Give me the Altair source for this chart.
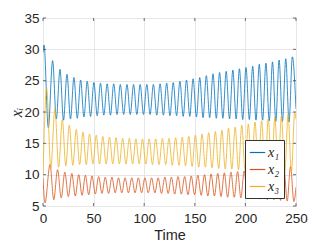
import altair as alt
import pandas as pd

# ---------------- data ----------------
X_TICKS = [0, 50, 100, 150, 200, 250]
Y_TICKS = [5, 10, 15, 20, 25, 30, 35]
NAMES = ["x\u2081", "x\u2082", "x\u2083"]
COLORS = ["#0072BD", "#D95319", "#EDB120"]

# x1 (blue): peak times, peak values, trough values between peaks
X1_HEAD = [(0.0, 29.5)]
X1_T_PEAK = [1.0, 9.5, 16.8, 23.7, 30.6, 37.2, 43.7, 50.3, 56.8, 63.4,
             69.9, 76.4, 83.0, 89.5, 96.0, 102.6, 109.1, 115.7, 122.2, 128.7,
             135.3, 141.8, 148.3, 154.9, 161.4, 168.0, 174.5, 181.0, 187.6, 194.1,
             200.6, 207.2, 213.7, 220.3, 226.8, 233.3, 239.9, 246.4]
X1_PEAK = [30.7, 28.2, 26.8, 26.0, 25.5, 25.1, 24.9, 24.7, 24.6, 24.5,
           24.5, 24.4, 24.4, 24.4, 24.4, 24.4, 24.4, 24.5, 24.6, 24.7,
           24.9, 25.1, 25.3, 25.5, 25.8, 26.1, 26.3, 26.5, 26.7, 26.9,
           27.1, 27.3, 27.6, 27.8, 28.0, 28.3, 28.5, 28.8]
X1_TROUGH = [17.5, 18.9, 18.7, 18.9, 19.0, 19.2, 19.3, 19.4, 19.5, 19.5,
             19.6, 19.6, 19.6, 19.6, 19.6, 19.6, 19.5, 19.5, 19.4, 19.4,
             19.3, 19.3, 19.2, 19.1, 19.1, 19.0, 19.0, 18.9, 18.9, 18.8,
             18.8, 18.7, 18.7, 18.6, 18.5, 18.5, 18.4]
X1_TAIL = [(250.0, 20.5)]

# x2 (orange)
X2_HEAD = [(0.0, 9.5), (2.0, 5.5)]
X2_T_PEAK = [6.9, 14.4, 21.6, 28.5, 35.3, 41.9, 48.4, 55.0, 61.5, 68.1,
             74.6, 81.1, 87.7, 94.2, 100.7, 107.3, 113.8, 120.4, 126.9, 133.4,
             140.0, 146.5, 153.0, 159.6, 166.1, 172.7, 179.2, 185.7, 192.3, 198.8,
             205.3, 211.9, 218.4, 225.0, 231.5, 238.0, 244.6]
X2_PEAK = [11.6, 10.8, 10.4, 10.2, 10.0, 9.9, 9.8, 9.7, 9.6, 9.6,
           9.5, 9.5, 9.5, 9.5, 9.5, 9.5, 9.5, 9.6, 9.6, 9.7,
           9.7, 9.8, 9.9, 10.0, 10.1, 10.2, 10.3, 10.4, 10.5, 10.6,
           10.7, 10.8, 10.9, 11.0, 11.1, 11.2, 11.3]
X2_TROUGH = [6.0, 6.3, 6.5, 6.6, 6.7, 6.8, 6.9, 7.0, 7.0, 7.1,
             7.1, 7.1, 7.1, 7.1, 7.1, 7.1, 7.0, 7.0, 6.9, 6.9,
             6.8, 6.8, 6.7, 6.6, 6.6, 6.5, 6.4, 6.4, 6.3, 6.2,
             6.2, 6.1, 6.0, 6.0, 5.9, 5.8]
X2_TAIL = [(247.9, 5.7), (250.0, 8.0)]

# x3 (yellow)
X3_HEAD = [(0.0, 10.0)]
X3_T_PEAK = [3.6, 11.8, 19.1, 26.0, 32.9, 39.5, 46.0, 52.6, 59.1, 65.7,
             72.2, 78.7, 85.3, 91.8, 98.3, 104.9, 111.4, 118.0, 124.5, 131.0,
             137.6, 144.1, 150.6, 157.2, 163.7, 170.3, 176.8, 183.3, 189.9, 196.4,
             202.9, 209.5, 216.0, 222.6, 229.1, 235.6, 242.2, 248.7]
X3_PEAK = [23.8, 20.5, 18.8, 17.9, 17.2, 16.8, 16.5, 16.3, 16.1, 16.0,
           15.9, 15.8, 15.8, 15.7, 15.7, 15.7, 15.7, 15.8, 15.8, 15.9,
           16.0, 16.1, 16.3, 16.5, 16.7, 16.9, 17.1, 17.4, 17.6, 17.9,
           18.1, 18.4, 18.6, 18.9, 19.1, 19.4, 19.6, 19.9]
X3_TROUGH = [11.0, 11.2, 11.4, 11.5, 11.6, 11.6, 11.7, 11.7, 11.7, 11.7,
             11.7, 11.7, 11.7, 11.7, 11.7, 11.6, 11.6, 11.6, 11.5, 11.5,
             11.4, 11.3, 11.2, 11.2, 11.1, 11.0, 10.9, 10.9, 10.8, 10.7,
             10.7, 10.6, 10.5, 10.5, 10.4, 10.3, 10.3]
X3_TAIL = [(250.0, 18.8)]


def build(name, head, tpk, pk, tr, tail):
    rows = [(name, t, v) for t, v in head]
    for i, (t, v) in enumerate(zip(tpk, pk)):
        rows.append((name, t, v))
        if i < len(tr) and i + 1 < len(tpk):
            rows.append((name, (t + tpk[i + 1]) / 2.0, tr[i]))
    rows += [(name, t, v) for t, v in tail]
    return rows


rows = []
rows += build(NAMES[0], X1_HEAD, X1_T_PEAK, X1_PEAK, X1_TROUGH, X1_TAIL)
rows += build(NAMES[1], X2_HEAD, X2_T_PEAK, X2_PEAK, X2_TROUGH, X2_TAIL)
rows += build(NAMES[2], X3_HEAD, X3_T_PEAK, X3_PEAK, X3_TROUGH, X3_TAIL)
df = pd.DataFrame(rows, columns=["s", "t", "v"])

W, H = 253, 188
FRAME = "#4a4a4a"

xscale = alt.Scale(domain=[0, 250], nice=False, zero=False)
yscale = alt.Scale(domain=[5, 35], nice=False, zero=False)

x_axis = alt.Axis(values=X_TICKS, title="Time", format="d", labelFlush=False,
                  labelPadding=5, titlePadding=4)
y_axis = alt.Axis(values=Y_TICKS, title="x\u1d62", format="d", labelFlush=False,
                  labelPadding=4, titlePadding=-1,
                  titleFont="Liberation Serif", titleFontStyle="italic",
                  titleFontSize=16, titleFontWeight="normal")

lines = alt.Chart(df).mark_line(strokeWidth=0.8, interpolate="monotone", clip=True).encode(
    x=alt.X("t:Q", scale=xscale, axis=x_axis),
    y=alt.Y("v:Q", scale=yscale, axis=y_axis),
    color=alt.Color("s:N", scale=alt.Scale(domain=NAMES, range=COLORS),
                    legend=alt.Legend(orient="none", legendX=202, legendY=122,
                                      title=None, symbolType="stroke",
                                      symbolSize=240, symbolStrokeWidth=1.2,
                                      labelFont="Liberation Serif",
                                      labelFontStyle="italic",
                                      labelFontSize=14, labelColor="#222222",
                                      fillColor="white", strokeColor="#333333",
                                      padding=4, rowPadding=1, labelOffset=2)),
    order=alt.Order("t:Q"),
)

tick_x = pd.DataFrame({"t": X_TICKS})
tick_y = pd.DataFrame({"v": Y_TICKS})

xt_bot = alt.Chart(tick_x).mark_rule(color=FRAME, strokeWidth=0.8).encode(
    x=alt.X("t:Q", scale=xscale, axis=x_axis), y=alt.value(H), y2=alt.value(H - 3))
xt_top = alt.Chart(tick_x).mark_rule(color=FRAME, strokeWidth=0.8).encode(
    x=alt.X("t:Q", scale=xscale, axis=x_axis), y=alt.value(0), y2=alt.value(3))
yt_left = alt.Chart(tick_y).mark_rule(color=FRAME, strokeWidth=0.8).encode(
    y=alt.Y("v:Q", scale=yscale, axis=y_axis), x=alt.value(0), x2=alt.value(3))
yt_right = alt.Chart(tick_y).mark_rule(color=FRAME, strokeWidth=0.8).encode(
    y=alt.Y("v:Q", scale=yscale, axis=y_axis), x=alt.value(W), x2=alt.value(W - 3))

chart = alt.layer(lines, xt_bot, xt_top, yt_left, yt_right).properties(
    width=W, height=H,
    autosize=alt.AutoSizeParams(type="none"),
    padding={"left": 35, "top": 10, "right": 19, "bottom": 39},
    background="white",
).configure_view(
    stroke=FRAME, strokeWidth=1
).configure_axis(
    domain=False, ticks=False, grid=True, gridColor="#e6e6e6", gridWidth=1,
    labelFont="Liberation Sans", labelFontSize=13.5, labelColor="#262626",
    titleFont="Liberation Sans", titleFontSize=14.5, titleColor="#262626",
    titleFontWeight="normal",
)

chart.save("out.html", embed_options={"renderer": "svg", "actions": False})
